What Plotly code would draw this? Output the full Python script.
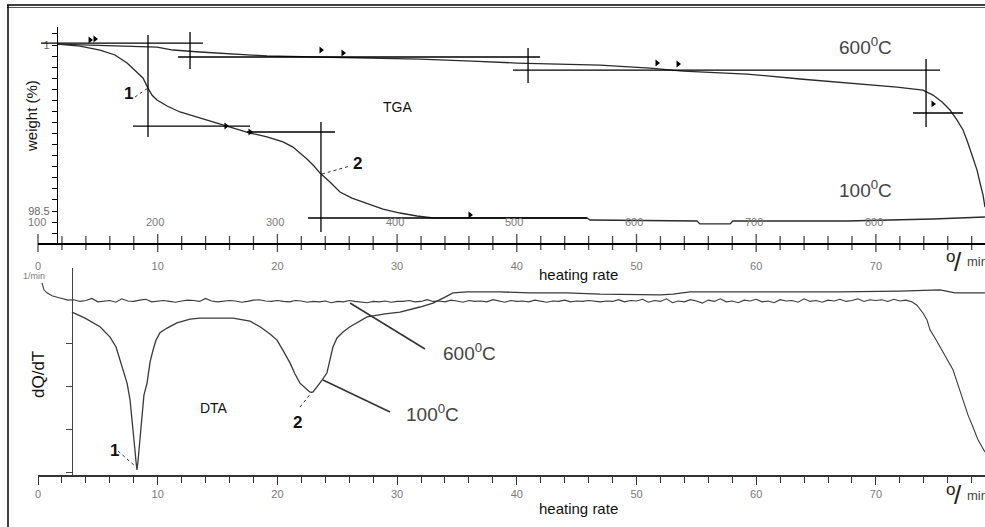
import plotly.graph_objects as go

# ---------------- data ----------------
# TGA (weight %, top panel), x = heating-rate axis units
tga600_x = [1.59, 5.18, 9.94, 11.28, 13.53, 19.13, 24.39, 31.91, 36.26, 40.02, 46.95, 51.13,
            53.89, 59.23, 63.66, 67.59, 71.76, 73.93, 74.77, 75.53, 76.19, 76.78, 77.28,
            77.69, 78.11, 78.45, 78.70, 78.95, 79.11]
tga600_y = [100.009, 100.000, 99.982, 99.955, 99.937, 99.901, 99.892, 99.873, 99.855, 99.837,
            99.819, 99.792, 99.765, 99.738, 99.693, 99.657, 99.620, 99.593, 99.548, 99.485,
            99.413, 99.322, 99.232, 99.114, 98.988, 98.870, 98.753, 98.645, 98.536]

tga100_x = [1.59, 3.51, 5.18, 6.43, 7.44, 8.27, 8.77, 9.19, 9.52, 9.94, 10.78, 11.86, 13.53,
            14.95, 16.46, 17.71, 19.13, 20.47, 21.30, 21.89, 22.47, 23.06, 23.56, 24.39,
            25.23, 26.23, 27.49, 28.82, 30.24, 31.66, 33.00, 38.60, 45.86, 46.12, 55.05,
            55.30, 57.81, 58.06, 67.59, 74.77, 79.11]
tga100_y = [100.009, 99.991, 99.955, 99.910, 99.837, 99.756, 99.702, 99.611, 99.548, 99.503,
            99.449, 99.395, 99.340, 99.295, 99.250, 99.205, 99.169, 99.124, 99.078, 99.024,
            98.970, 98.907, 98.843, 98.762, 98.672, 98.617, 98.572, 98.518, 98.482, 98.455,
            98.437, 98.437, 98.437, 98.419, 98.410, 98.383, 98.383, 98.410, 98.410, 98.428,
            98.446]

# construction (tangent) lines on the TGA curves: (x0, y0, x1, y1)
tga_tangents = [
    (0.25, 100.018, 13.78, 100.018), (11.70, 99.892, 41.94, 99.892),
    (12.70, 100.117, 12.70, 99.783), (40.94, 99.973, 40.94, 99.657),
    (39.68, 99.774, 75.36, 99.774), (74.19, 99.873, 74.19, 99.259),
    (73.10, 99.386, 77.28, 99.386),
    (9.19, 100.090, 9.19, 99.169), (7.94, 99.268, 17.71, 99.268),
    (17.46, 99.214, 24.81, 99.214), (23.64, 99.304, 23.64, 98.310),
    (22.56, 98.437, 45.86, 98.437),
]
flag_x = [4.35, 4.76, 23.64, 25.48, 51.71, 53.47, 74.77, 15.70, 17.71, 36.09]
flag_y = [100.045, 100.054, 99.955, 99.928, 99.837, 99.828, 99.468, 99.268, 99.214, 98.464]

# DTA (arbitrary units, bottom panel)
dta100_x = [2.84, 3.93, 5.18, 6.02, 6.52, 6.85, 7.18, 7.44, 7.69, 7.85, 8.02, 8.10, 8.19, 8.27,
            8.35, 8.44, 8.52, 8.69, 8.85, 9.11, 9.36, 9.61, 9.86, 10.19, 10.78, 11.61, 12.70,
            13.53, 16.29, 17.71, 18.55, 19.38, 19.97, 20.55, 21.05, 21.47, 21.89, 22.31, 22.72,
            22.97, 23.31, 23.73, 24.14, 24.39, 24.64, 24.98, 25.48, 26.07, 27.49, 28.99, 30.24,
            31.91, 33.00, 34.00, 34.67, 35.84, 38.60, 41.10, 44.19, 46.95, 49.71, 52.00, 53.05,
            54.47, 55.89, 61.15, 67.00, 72.01, 75.36, 76.61, 79.11]
dta100_y = [3.74, 3.60, 3.40, 3.16, 2.93, 2.63, 2.35, 2.09, 1.70, 1.30, 0.88, 0.53, 0.26, 0.07,
            0.26, 0.53, 0.77, 1.35, 1.81, 2.09, 2.58, 2.86, 3.09, 3.26, 3.37, 3.49, 3.58,
            3.60, 3.60, 3.53, 3.40, 3.23, 3.09, 2.81, 2.56, 2.30, 2.09, 1.98, 1.88,
            1.88, 2.00, 2.16, 2.33, 2.63, 2.93, 3.14, 3.28, 3.40, 3.63, 3.70, 3.74,
            3.86, 3.95, 4.09, 4.19, 4.21, 4.21, 4.19, 4.19, 4.16, 4.14, 4.14, 4.16,
            4.21, 4.21, 4.21, 4.21, 4.23, 4.26, 4.19, 4.19]

dta600_head_x = [0.33, 0.50, 0.75, 1.17, 1.84, 2.20]
dta600_head_y = [4.42, 4.26, 4.19, 4.12, 4.07, 4.04]
dta600_mid_x0, dta600_mid_step = 2.5, 0.5
dta600_mid_y = [
    4.02, 4.03, 3.99, 4.01, 4.06, 3.98, 4.00, 4.01, 3.97, 4.05, 4.00, 3.99, 4.02, 4.04, 3.98, 4.00,
    4.01, 3.99, 3.97, 4.00, 4.02, 4.01, 3.99, 4.06, 4.00, 3.98, 3.99, 4.01, 4.00, 3.97, 3.99, 4.02, 4.03, 4.00, 3.99, 4.01,
    3.99, 3.98, 4.01, 4.00, 3.97, 3.99, 3.98, 4.00, 3.96, 3.99, 3.98, 4.01, 3.99, 3.98, 3.96, 3.99, 3.98, 4.00, 3.97, 3.99,
    3.99, 4.01, 3.98, 3.99, 4.03, 3.99, 4.00, 3.98, 4.02, 4.00, 3.97, 4.01, 3.99, 4.00, 3.98, 4.03, 4.00, 3.97, 4.01, 3.99,
    4.00, 3.98, 4.02, 4.00, 3.97, 4.00, 3.99, 4.02, 3.98, 4.00, 3.99, 4.01, 4.00, 3.98, 4.00, 3.99, 4.03, 3.98, 4.01, 4.00,
    4.04, 3.97, 4.01, 3.99, 4.05, 3.96, 4.00, 3.98, 4.03, 4.00, 3.95, 4.02, 3.99, 4.05, 3.98, 4.00, 3.96, 4.02, 4.00, 4.04,
    3.98, 4.00, 3.96, 4.03, 4.00, 4.01, 3.97, 4.05, 3.99, 4.01, 3.97, 4.02, 4.00, 4.04, 3.99, 4.01, 4.05, 3.99, 4.03, 4.01,
    4.03, 3.99, 4.04, 4.00, 4.02, 3.98,
]
dta600_tail_x = [73.43, 73.93, 74.27, 74.52, 74.94, 75.36, 75.94, 76.44, 76.86, 77.28, 77.69,
                 78.11, 78.53, 79.11]
dta600_tail_y = [3.90, 3.72, 3.56, 3.33, 3.14, 2.93, 2.63, 2.40, 2.05, 1.70, 1.35, 1.07, 0.77, 0.49]

x_ticks = [0, 10, 20, 30, 40, 50, 60, 70]
x_minor = list(range(0, 80, 2))
temp_labels = ["100", "200", "300", "400", "500", "600", "700", "800", "900"]
temp_label_x = [-0.1, 9.8, 19.8, 29.8, 39.8, 49.8, 59.8, 69.8, 79.9]
w_ticks = [round(98.3 + 0.1 * i, 1) for i in range(19)]
w_ticktext = ["98.5" if abs(v - 98.5) < 1e-6 else ("1" if abs(v - 100.0) < 1e-6 else "") for v in w_ticks]

# ---------------- geometry helpers (layout only) ----------------
W, H = 985, 527
def P(px): return px / W
def Q(py): return 1 - py / H

X0PX, XSCALE = 38, 11.97
XR = [0, (W - X0PX) / XSCALE]
TOP_Y = [98.211, 100.163]
BOT_Y = [-0.047, 4.767]

dta600_x = dta600_head_x + [dta600_mid_x0 + dta600_mid_step * i for i in range(len(dta600_mid_y))] + dta600_tail_x
dta600_y = dta600_head_y + dta600_mid_y + dta600_tail_y

FONT = "Liberation Sans, Arial, sans-serif"
GRAY = "#7a7a7a"
fig = go.Figure()

line_col = "#2a2a2a"
fig.add_trace(go.Scatter(x=tga600_x, y=tga600_y, mode="lines", line=dict(color=line_col, width=1.3),
                         xaxis="x", yaxis="y", showlegend=False, hoverinfo="skip"))
fig.add_trace(go.Scatter(x=tga100_x, y=tga100_y, mode="lines", line=dict(color=line_col, width=1.3),
                         xaxis="x", yaxis="y", showlegend=False, hoverinfo="skip"))
fig.add_trace(go.Scatter(x=flag_x, y=flag_y, mode="markers",
                         marker=dict(symbol="triangle-right", size=6, color="black"),
                         xaxis="x", yaxis="y", showlegend=False, hoverinfo="skip"))
# crossing ticks of top x axis
fig.add_trace(go.Scatter(x=x_minor, y=[TOP_Y[0]] * len(x_minor), mode="markers", cliponaxis=False,
                         marker=dict(symbol="line-ns", size=[13 if v % 10 == 0 else 10 for v in x_minor],
                                     line=dict(color="black", width=1.3)),
                         xaxis="x", yaxis="y", showlegend=False, hoverinfo="skip"))

fig.add_trace(go.Scatter(x=dta600_x, y=dta600_y, mode="lines", line=dict(color="#3a3a3a", width=1.1),
                         xaxis="x2", yaxis="y2", showlegend=False, hoverinfo="skip"))
fig.add_trace(go.Scatter(x=dta100_x, y=dta100_y, mode="lines", line=dict(color="#3a3a3a", width=1.3),
                         xaxis="x2", yaxis="y2", showlegend=False, hoverinfo="skip"))

shapes = []
for (a, b, c, d) in tga_tangents:
    shapes.append(dict(type="line", xref="x", yref="y", x0=a, y0=b, x1=c, y1=d,
                       line=dict(color="black", width=1.3)))

def pline(x0, y0, x1, y1, color="#333", width=1.2, dash="solid"):
    shapes.append(dict(type="line", xref="paper", yref="paper", x0=P(x0), y0=Q(y0), x1=P(x1), y1=Q(y1),
                       line=dict(color=color, width=width, dash=dash)))

# frame
pline(7, 5, 990, 5, "black", 1.5)
pline(7, 7.5, 990, 7.5, "#555", 1)
pline(8, 5, 8, 530, "black", 1.5)
# leader lines
pline(135, 97, 148, 88, "#333", 1, "dot")
pline(322, 174, 350, 166, "#333", 1, "dot")
pline(118, 451, 135, 466, "#333", 1, "dot")
pline(300, 407, 312, 392, "#333", 1, "dot")
pline(350, 303, 425, 349, "#333", 1.5)
pline(323, 380, 390, 412, "#333", 1.5)

ann = []
def text(px, py, s, size=14, color="#111", bold=False, angle=0, xanchor="center", family=FONT):
    ann.append(dict(x=P(px), y=Q(py), xref="paper", yref="paper", text=("<b>%s</b>" % s) if bold else s,
                    showarrow=False, textangle=angle, xanchor=xanchor, yanchor="middle",
                    font=dict(size=size, color=color, family=family)))

for lab, tx in zip(temp_labels, temp_label_x):
    text(X0PX + XSCALE * tx, 222, lab, 11, GRAY)

text(865, 46, "600<sup>0</sup>C", 19, "#444")
text(865, 189, "100<sup>0</sup>C", 19, "#444")
text(469, 352, "600<sup>0</sup>C", 19, "#444")
text(432, 413, "100<sup>0</sup>C", 19, "#444")
text(397, 107, "TGA", 14)
text(214, 408, "DTA", 14)
text(128, 94, "1", 17, bold=True)
text(357, 163, "2", 17, bold=True)
text(114, 450, "1", 17, bold=True)
text(297, 422, "2", 17, bold=True)
text(32, 116, "weight (%)", 15, angle=-90)
text(38, 375, "dQ/dT", 17, angle=-90)
text(34, 276, "1/min", 9, GRAY)
text(578, 274, "heating rate", 15)
text(578, 508, "heating rate", 15)
for base in (0, 233):
    text(950, 256 + base, "o", 17, "#222")
    text(958, 262 + base, "/", 26, "#222")
    text(965, 262 + base, "min", 13, "#444", xanchor="left")

axis_common = dict(range=XR, domain=[P(X0PX), 1], showgrid=False, zeroline=False, showline=True,
                   tickvals=x_ticks, tickfont=dict(size=11, color=GRAY, family=FONT))

fig.update_layout(
    template="none",
    width=W, height=H, margin=dict(l=0, r=0, t=0, b=0),
    paper_bgcolor="white", plot_bgcolor="rgba(0,0,0,0)",
    xaxis=dict(**axis_common, anchor="y", linecolor="black", linewidth=1.5, ticks="",
               ticklabelstandoff=12),
    yaxis=dict(range=TOP_Y, domain=[Q(243), Q(27)], anchor="free", position=P(57), showgrid=False,
               zeroline=False, showline=True, linecolor="black", linewidth=1.3, ticks="outside",
               ticklen=5, tickcolor="black", tickvals=w_ticks, ticktext=w_ticktext,
               tickfont=dict(size=11, color="#666", family=FONT)),
    xaxis2=dict(**axis_common, anchor="y2", linecolor="#333", linewidth=1.5, ticks="outside",
                ticklen=8, tickcolor="#333",
                minor=dict(dtick=2, ticks="outside", ticklen=6, tickcolor="#333")),
    yaxis2=dict(range=BOT_Y, domain=[Q(475), Q(268)], anchor="free", position=P(72), showgrid=False,
                zeroline=False, showline=True, linecolor="#444", linewidth=1.3, ticks="outside",
                ticklen=6, tickcolor="#444", tickvals=[0, 1, 2, 3], showticklabels=False),
    shapes=shapes, annotations=ann,
)

fig.write_html("out.html", config={"displayModeBar": False},
               post_script="document.body.style.margin='0px';document.body.style.overflow='hidden';")
